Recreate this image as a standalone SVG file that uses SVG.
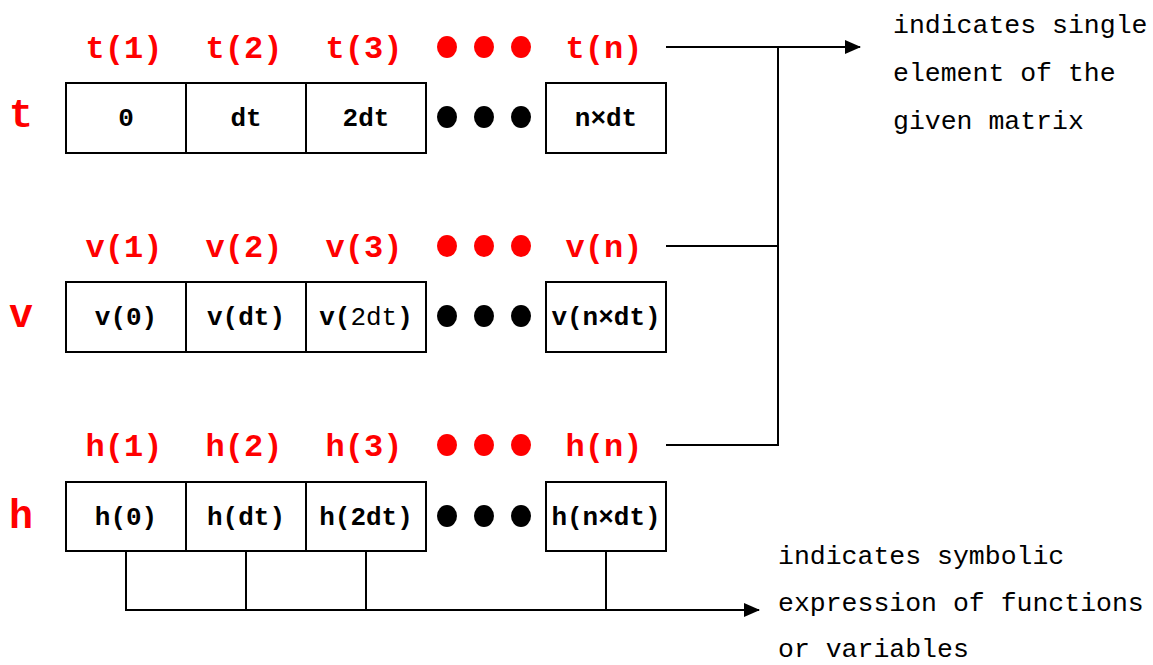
<svg xmlns="http://www.w3.org/2000/svg" width="1153" height="665" viewBox="0 0 1153 665">
<style>
.bg{fill:#fff}
.cell{fill:#fff;stroke:#000;stroke-width:2}
.val{font-family:"Liberation Mono","Courier New",monospace;font-weight:bold;font-size:26px;fill:#000;text-anchor:middle}
.reg{font-weight:normal}
.idx{font-family:"Liberation Mono","Courier New",monospace;font-weight:bold;font-size:32px;fill:#ff0000;text-anchor:middle}
.name{font-family:"Liberation Mono","Courier New",monospace;font-weight:bold;font-size:40px;fill:#ff0000}
.note{font-family:"Liberation Mono","Courier New",monospace;font-size:26.5px;fill:#000}
.rd{fill:#ff0000}
.bd{fill:#000}
.ln{fill:none;stroke:#000;stroke-width:2}
</style>
<defs>
<marker id="ah" markerWidth="16" markerHeight="14" refX="15" refY="7" orient="auto" markerUnits="userSpaceOnUse">
<path d="M0,0 L16,7 L0,14 Z" fill="#000"/>
</marker>
</defs>
<rect class="bg" x="0" y="0" width="1153" height="665"/>

<g id="row-t">
<text class="name" x="9" y="127">t</text>
<text class="idx" x="124" y="58">t(1)</text>
<text class="idx" x="244" y="58">t(2)</text>
<text class="idx" x="364" y="58">t(3)</text>
<ellipse class="rd" cx="447" cy="47" rx="10" ry="11"/>
<ellipse class="rd" cx="484" cy="47" rx="10" ry="11"/>
<ellipse class="rd" cx="521" cy="47" rx="10" ry="11"/>
<text class="idx" x="604" y="58">t(n)</text>
<rect class="cell" x="66" y="83" width="120" height="70"/>
<rect class="cell" x="186" y="83" width="120" height="70"/>
<rect class="cell" x="306" y="83" width="120" height="70"/>
<rect class="cell" x="546" y="83" width="120" height="70"/>
<text class="val" x="126" y="126">0</text>
<text class="val" x="246" y="126">dt</text>
<text class="val" x="366" y="126">2dt</text>
<ellipse class="bd" cx="447" cy="117" rx="10" ry="11"/>
<ellipse class="bd" cx="484" cy="117" rx="10" ry="11"/>
<ellipse class="bd" cx="521" cy="117" rx="10" ry="11"/>
<text class="val" x="606" y="126">n×dt</text>
</g>

<g id="row-v">
<text class="name" x="9" y="327">v</text>
<text class="idx" x="124" y="257">v(1)</text>
<text class="idx" x="244" y="257">v(2)</text>
<text class="idx" x="364" y="257">v(3)</text>
<ellipse class="rd" cx="447" cy="246" rx="10" ry="11"/>
<ellipse class="rd" cx="484" cy="246" rx="10" ry="11"/>
<ellipse class="rd" cx="521" cy="246" rx="10" ry="11"/>
<text class="idx" x="604" y="257">v(n)</text>
<rect class="cell" x="66" y="282" width="120" height="70"/>
<rect class="cell" x="186" y="282" width="120" height="70"/>
<rect class="cell" x="306" y="282" width="120" height="70"/>
<rect class="cell" x="546" y="282" width="120" height="70"/>
<text class="val" x="126" y="325">v(0)</text>
<text class="val" x="246" y="325">v(dt)</text>
<text class="val" x="366" y="325">v(<tspan class="reg">2dt</tspan>)</text>
<ellipse class="bd" cx="447" cy="316" rx="10" ry="11"/>
<ellipse class="bd" cx="484" cy="316" rx="10" ry="11"/>
<ellipse class="bd" cx="521" cy="316" rx="10" ry="11"/>
<text class="val" x="606" y="325">v(n×dt)</text>
</g>

<g id="row-h">
<text class="name" x="9" y="528">h</text>
<text class="idx" x="124" y="456">h(1)</text>
<text class="idx" x="244" y="456">h(2)</text>
<text class="idx" x="364" y="456">h(3)</text>
<ellipse class="rd" cx="447" cy="445" rx="10" ry="11"/>
<ellipse class="rd" cx="484" cy="445" rx="10" ry="11"/>
<ellipse class="rd" cx="521" cy="445" rx="10" ry="11"/>
<text class="idx" x="604" y="456">h(n)</text>
<rect class="cell" x="66" y="482" width="120" height="69"/>
<rect class="cell" x="186" y="482" width="120" height="69"/>
<rect class="cell" x="306" y="482" width="120" height="69"/>
<rect class="cell" x="546" y="482" width="120" height="69"/>
<text class="val" x="126" y="525">h(0)</text>
<text class="val" x="246" y="525">h(dt)</text>
<text class="val" x="366" y="525">h(2dt)</text>
<ellipse class="bd" cx="447" cy="516" rx="10" ry="11"/>
<ellipse class="bd" cx="484" cy="516" rx="10" ry="11"/>
<ellipse class="bd" cx="521" cy="516" rx="10" ry="11"/>
<text class="val" x="606" y="525">h(n×dt)</text>
</g>

<g id="note-element">
<text class="note" x="893" y="33">indicates single</text>
<text class="note" x="893" y="81">element of the</text>
<text class="note" x="893" y="129">given matrix</text>
</g>

<g id="note-symbolic">
<text class="note" x="778" y="564">indicates symbolic</text>
<text class="note" x="778" y="611">expression of functions</text>
<text class="note" x="778" y="657">or variables</text>
</g>

<g id="connectors">
<line class="ln" x1="666" y1="47" x2="860" y2="47" marker-end="url(#ah)"/>
<line class="ln" x1="778" y1="47" x2="778" y2="445"/>
<line class="ln" x1="666" y1="246" x2="778" y2="246"/>
<line class="ln" x1="666" y1="445" x2="779" y2="445"/>
<line class="ln" x1="126" y1="551" x2="126" y2="610"/>
<line class="ln" x1="246" y1="551" x2="246" y2="610"/>
<line class="ln" x1="366" y1="551" x2="366" y2="610"/>
<line class="ln" x1="606" y1="551" x2="606" y2="610"/>
<line class="ln" x1="125" y1="610" x2="759" y2="610" marker-end="url(#ah)"/>
</g>
</svg>
